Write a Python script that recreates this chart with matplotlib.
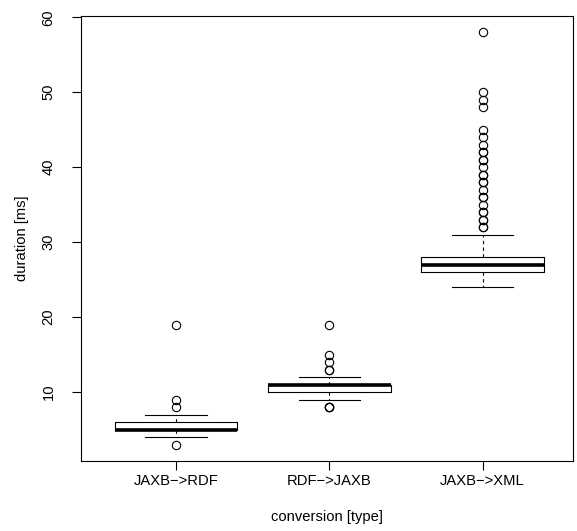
import matplotlib
matplotlib.use("Agg")
import matplotlib.pyplot as plt

plt.rcParams['font.family'] = ['Liberation Sans', 'DejaVu Sans']

# -------------------------
# Data (box statistics per conversion)
# -------------------------
categories = ["JAXB\u2212>RDF", "RDF\u2212>JAXB", "JAXB\u2212>XML"]
medians = [5, 11, 27]
q1 = [5, 10, 26]
q3 = [6, 11, 28]
whisker_lo = [4, 9, 24]
whisker_hi = [7, 12, 31]
outliers_rdf = [19, 9, 8, 3]
outliers_jaxb = [19, 15, 14, 13, 13, 8, 8, 8]
outliers_xml = [58, 50, 49, 48, 45, 44, 43, 42, 42, 41, 41, 40, 39, 39,
                38, 38, 37, 36, 36, 35, 34, 34, 33, 33, 32, 32]
outliers = [outliers_rdf, outliers_jaxb, outliers_xml]

stats = []
for i, name in enumerate(categories):
    stats.append({
        'label': name,
        'med': medians[i],
        'q1': q1[i],
        'q3': q3[i],
        'whislo': whisker_lo[i],
        'whishi': whisker_hi[i],
        'fliers': outliers[i],
    })

# -------------------------
# R-style boxplot
# -------------------------
fig = plt.figure(figsize=(5.77, 5.31), dpi=100)
ax = fig.add_axes([0.1409, 0.1318, 0.8522, 0.8386])

ax.bxp(stats, positions=[1, 2, 3], widths=0.8,
       boxprops=dict(color='black', linewidth=0.8),
       medianprops=dict(color='black', linewidth=2.6, solid_capstyle='butt'),
       whiskerprops=dict(color='black', linewidth=0.8, linestyle=(0, (3, 3))),
       capprops=dict(color='black', linewidth=0.8),
       capwidths=0.4,
       flierprops=dict(marker='o', markerfacecolor='none', markeredgecolor='black',
                       markersize=6, markeredgewidth=0.8))

ax.set_xlim(0.382, 3.59)
ax.set_ylim(0.8, 60.2)
ax.set_yticks([10, 20, 30, 40, 50, 60])
ax.set_xticks([1, 2, 3])
ax.set_xticklabels(categories)
for lbl in ax.get_yticklabels():
    lbl.set_rotation(90)
    lbl.set_va('center')

ax.tick_params(axis='both', direction='out', length=6.5, width=0.8, labelsize=10.6)
ax.tick_params(axis='x', pad=3)
ax.tick_params(axis='y', pad=12)
for sp in ax.spines.values():
    sp.set_linewidth(0.8)

ax.set_xlabel('conversion [type]', fontsize=10.6, labelpad=16)
ax.set_ylabel('duration [ms]', fontsize=10.6, labelpad=9)

fig.savefig('out.png', dpi=100)
